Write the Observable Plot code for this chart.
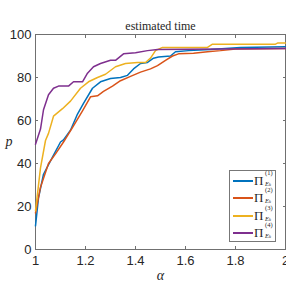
<!DOCTYPE html>
<html>
<head>
<meta charset="utf-8">
<script src="https://cdn.jsdelivr.net/npm/d3@7"></script>
<script src="https://cdn.jsdelivr.net/npm/@observablehq/plot@0.6"></script>
<style>
  html, body { margin: 0; padding: 0; background: #fff; }
  #wrap { position: relative; width: 286px; height: 286px; overflow: hidden; }
  .legend {
    position: absolute; left: 229px; top: 170px; width: 47px; height: 72px;
    box-sizing: border-box; border: 1px solid #777; background: #fff;
    font-family: 'Liberation Serif', serif; color: #262626;
  }
  .entry { position: absolute; left: 0; height: 17px; width: 46px; }
  .entry .swatch { position: absolute; left: 3px; top: 9px; width: 20px; height: 2px; }
  .entry .pi { position: absolute; left: 24px; top: 3px; font-size: 13px; line-height: 14px; }
  .entry .sup { position: absolute; left: 35px; top: -1px; font-size: 6.5px; line-height: 6px; }
  .entry .sub { position: absolute; left: 35px; top: 10px; font-size: 6.5px; line-height: 6px; font-style: italic; }
  .entry .sub span { font-size: 4.5px; }
</style>
</head>
<body>
<div id="wrap"></div>
<script>
// Performance profiles: fraction of problems p (%) solved within a factor alpha
const seriesNames = ["Π(1)", "Π(2)", "Π(3)", "Π(4)"];
const seriesColors = ["#0072BD", "#D95319", "#EDB120", "#7E2F8E"];

const alpha1 = [1, 1.012, 1.032, 1.068, 1.1, 1.112, 1.14, 1.168, 1.192, 1.228, 1.26, 1.3, 1.34, 1.368, 1.392, 1.42, 1.448, 1.472, 1.492, 1.54, 1.56, 1.612, 1.7, 1.82, 2];
const p1     = [11, 24, 35, 43, 50, 51, 55.5, 63, 68, 75, 78, 79.5, 80, 81, 84, 86.5, 87, 89, 89.5, 90, 92, 92.5, 93, 94, 94.3];

const alpha2 = [1, 1.02, 1.052, 1.08, 1.112, 1.12, 1.152, 1.188, 1.22, 1.248, 1.272, 1.308, 1.34, 1.38, 1.42, 1.46, 1.488, 1.52, 1.548, 1.572, 1.632, 1.688, 1.74, 1.8, 2];
const p2     = [17, 29, 40, 44.5, 50, 51.5, 57.5, 64.5, 71, 71.5, 73.5, 76, 78.5, 80.5, 82.5, 84, 85.5, 88, 90, 91, 91.3, 92, 92.5, 93.3, 93.5];

const alpha3 = [1, 1.02, 1.04, 1.052, 1.072, 1.108, 1.14, 1.18, 1.212, 1.248, 1.28, 1.32, 1.36, 1.408, 1.44, 1.46, 1.48, 1.508, 1.688, 1.708, 1.96, 1.968, 2];
const p3     = [18, 38, 50.7, 54, 62, 65.5, 69, 75, 78, 80, 81.5, 85, 86.5, 87, 87, 89, 92.5, 94, 94, 95.5, 95.5, 96, 96];

const alpha4 = [1, 1.02, 1.032, 1.052, 1.072, 1.092, 1.132, 1.152, 1.188, 1.208, 1.232, 1.26, 1.3, 1.32, 1.352, 1.4, 1.448, 1.488, 2];
const p4     = [49, 56, 65, 72, 75, 76, 76, 78, 78, 82, 85, 86.5, 88, 88, 91, 91.5, 92.5, 93, 93.5];

const xTicks = [1, 1.2, 1.4, 1.6, 1.8, 2];
const yTicks = [0, 20, 40, 60, 80, 100];
const titleText = ["estimated time"];

const alphas = [alpha1, alpha2, alpha3, alpha4];
const ps = [p1, p2, p3, p4];
const rows = [];
alphas.forEach((a, s) => a.forEach((x, i) => rows.push({series: seriesNames[s], alpha: x, p: ps[s][i]})));

const axisColor = "#707070";
const sans = "'Liberation Sans', Arial, sans-serif";
const serif = "'Liberation Serif', 'Times New Roman', serif";
const plot = Plot.plot({
  width: 286,
  height: 286,
  marginLeft: 35,
  marginRight: 1,
  marginTop: 34,
  marginBottom: 37,
  style: {fontFamily: sans, fontSize: "13px", color: "#262626", background: "#fff", overflow: "visible"},
  x: {domain: [1, 2]},
  y: {domain: [0, 100]},
  color: {domain: seriesNames, range: seriesColors},
  marks: [
    Plot.frame({stroke: axisColor}),
    Plot.axisX({anchor: "bottom", ticks: xTicks, tickSize: -3, tickPadding: 9, tickFormat: d => String(d), stroke: axisColor, fill: "#262626", label: null, fontSize: 13, fontFamily: sans}),
    Plot.axisX({anchor: "top", ticks: xTicks, tickSize: -3, tickFormat: () => "", stroke: axisColor, label: null}),
    Plot.axisY({anchor: "left", ticks: yTicks, tickSize: -3, tickPadding: 7, stroke: axisColor, fill: "#262626", label: null, fontSize: 13, fontFamily: sans}),
    Plot.axisY({anchor: "right", ticks: yTicks, tickSize: -3, tickFormat: () => "", stroke: axisColor, label: null}),
    Plot.line(rows, {x: "alpha", y: "p", z: "series", stroke: "series", strokeWidth: 1.5}),
    Plot.text(titleText, {frameAnchor: "top", lineAnchor: "bottom", dy: -5, text: d => d, fontFamily: serif, fontSize: 12, fill: "#262626"}),
    Plot.text(["α"], {frameAnchor: "bottom", dy: 30, text: d => d, fontFamily: serif, fontStyle: "italic", fontSize: 14, fill: "#262626"}),
    Plot.text(["p"], {frameAnchor: "left", dx: -30, dy: 0, text: d => d, fontFamily: serif, fontStyle: "italic", fontSize: 14, fill: "#262626"})
  ]
});

const wrap = document.getElementById("wrap");
wrap.appendChild(plot);

// Legend box with Π^{(k)}_{E_k} entries
const legend = document.createElement("div");
legend.className = "legend";
seriesNames.forEach((name, i) => {
  const e = document.createElement("div");
  e.className = "entry";
  e.style.top = (i * 17.3) + "px";
  e.innerHTML = `<div class="swatch" style="background:${seriesColors[i]}"></div>` +
    `<div class="pi">Π</div><div class="sup">(${i + 1})</div>` +
    `<div class="sub">E<span>k</span></div>`;
  legend.appendChild(e);
});
wrap.appendChild(legend);
</script>
</body>
</html>
